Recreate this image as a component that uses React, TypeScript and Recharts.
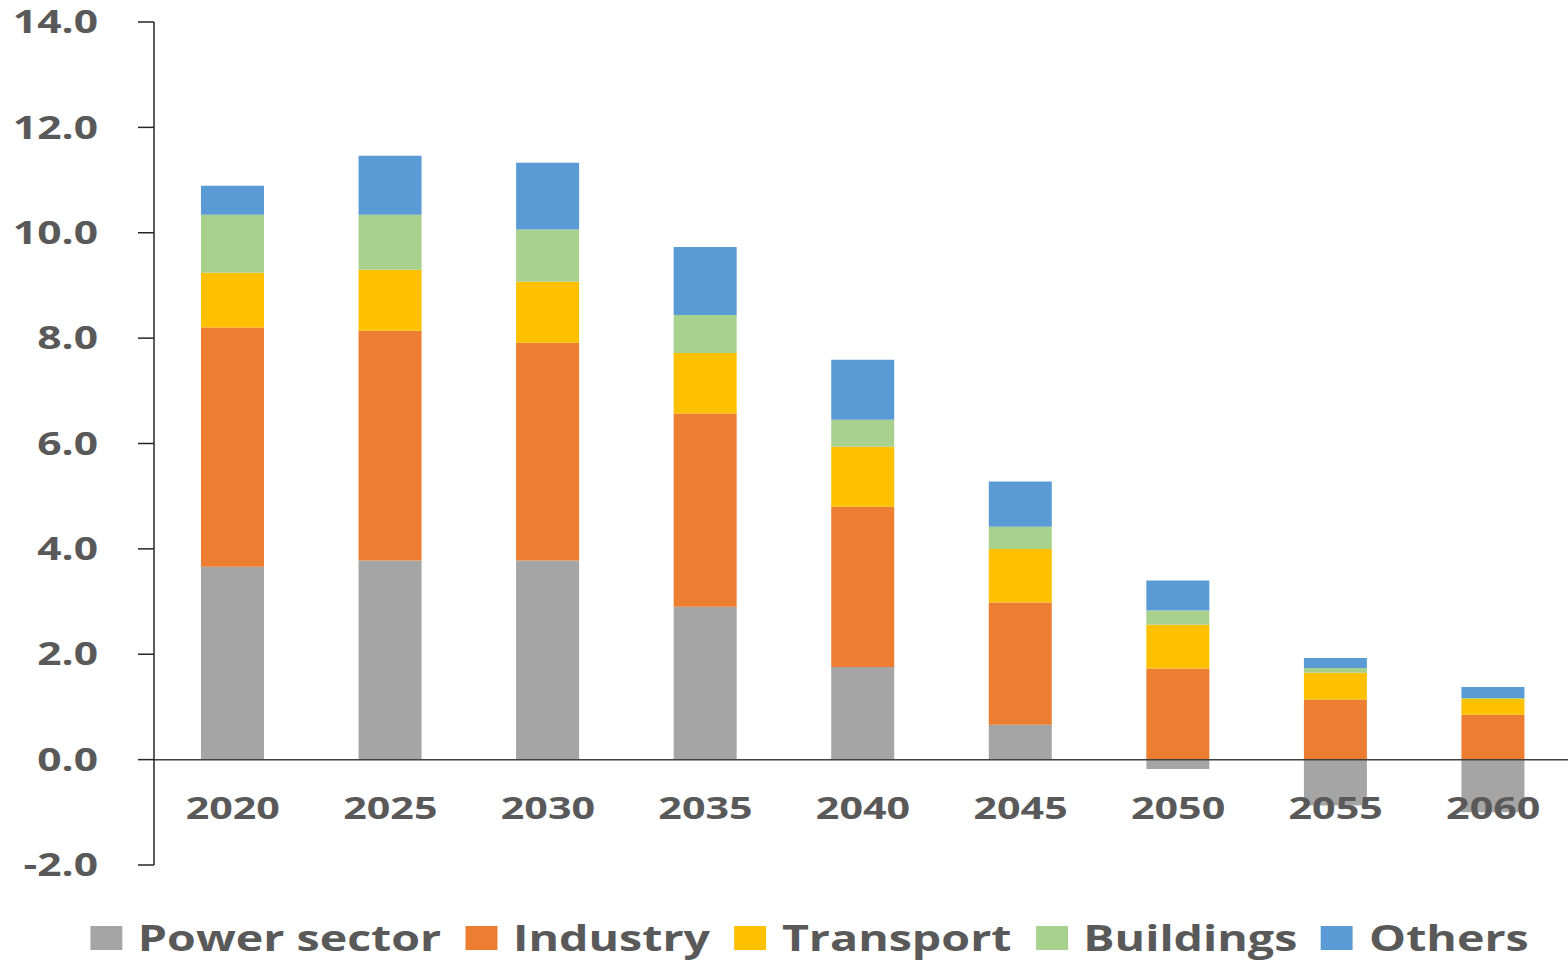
import React from 'react';
import {
  BarChart,
  Bar,
  XAxis,
  YAxis,
  ReferenceLine,
  Legend,
} from 'recharts';

const years = ['2020', '2025', '2030', '2035', '2040', '2045', '2050', '2055', '2060'];
const power = [3.66, 3.78, 3.78, 2.9, 1.76, 0.66, -0.18, -0.87, -1.0];
const industry = [4.54, 4.36, 4.13, 3.67, 3.04, 2.32, 1.73, 1.14, 0.85];
const transport = [1.04, 1.16, 1.16, 1.15, 1.14, 1.02, 0.83, 0.51, 0.3];
const buildings = [1.1, 1.04, 0.99, 0.72, 0.51, 0.42, 0.27, 0.09, 0.02];
const others = [0.55, 1.12, 1.27, 1.29, 1.14, 0.86, 0.57, 0.19, 0.21];
const yTicks = [-2, 0, 2, 4, 6, 8, 10, 12, 14];

const series = [
  { key: 'power', name: 'Power sector', color: '#A5A5A5' },
  { key: 'industry', name: 'Industry', color: '#ED7D31' },
  { key: 'transport', name: 'Transport', color: '#FFC000' },
  { key: 'buildings', name: 'Buildings', color: '#A9D18E' },
  { key: 'others', name: 'Others', color: '#5B9BD5' },
];

const data = years.map((year, i) => ({
  year,
  power: power[i],
  industry: industry[i],
  transport: transport[i],
  buildings: buildings[i],
  others: others[i],
}));

const FONT = '"Open Sans", "Noto Sans", sans-serif';
const TEXT = '#595959';
const STRETCH = 1.33;

function YTick({ x, y, payload }: any) {
  return (
    <text
      transform={`translate(${x},${y}) scale(${STRETCH},1)`}
      textAnchor="end"
      dy="0.35em"
      fill={TEXT}
      fontFamily={FONT}
      fontWeight={700}
      fontSize={32}
    >
      {Number(payload.value).toFixed(1)}
    </text>
  );
}

function XTick({ x, y, payload }: any) {
  // labels sit just under the zero line, not at the plot bottom
  return (
    <text
      transform={`translate(${x},${y - 56.5}) scale(${STRETCH},1)`}
      textAnchor="middle"
      dy="0.35em"
      fill={TEXT}
      fontFamily={FONT}
      fontWeight={700}
      fontSize={31}
    >
      {payload.value}
    </text>
  );
}

function LegendContent() {
  return (
    <div style={{ height: 65, position: 'relative' }}>
      <div
        style={{
          position: 'absolute',
          left: 0,
          top: 23,
          paddingLeft: 90 / STRETCH,
          display: 'flex',
          alignItems: 'center',
          transform: `scaleX(${STRETCH})`,
          transformOrigin: '0 0',
          whiteSpace: 'nowrap',
          fontFamily: FONT,
          fontWeight: 700,
          fontSize: 35,
          lineHeight: '40px',
          color: TEXT,
        }}
      >
        {series.map((s) => (
          <div key={s.key} style={{ display: 'flex', alignItems: 'center', marginRight: 18 }}>
            <span style={{ width: 24, height: 24, background: s.color, marginRight: 12, display: 'inline-block' }} />
            <span>{s.name}</span>
          </div>
        ))}
      </div>
    </div>
  );
}

export default function App() {
  return (
    <div style={{ position: 'absolute', left: 0, top: 0, width: 1568, height: 960, background: '#fff' }}>
      <BarChart
        width={1568}
        height={960}
        data={data}
        stackOffset="sign"
        margin={{ top: 22, right: -4, left: 0, bottom: 0 }}
      >
        <YAxis
          domain={[-2, 14]}
          ticks={yTicks}
          interval={0}
          width={154}
          axisLine={{ stroke: '#262626', strokeWidth: 1.5 }}
          tickLine={{ stroke: '#262626', strokeWidth: 1.5 }}
          tickSize={16}
          tickMargin={40}
          tick={<YTick />}
        />
        {series.map((s) => (
          <Bar
            key={s.key}
            dataKey={s.key}
            name={s.name}
            stackId="a"
            fill={s.color}
            barSize={63}
            isAnimationActive={false}
          />
        ))}
        <ReferenceLine y={0} stroke="#404040" strokeWidth={1.5} />
        <XAxis
          dataKey="year"
          height={30}
          axisLine={false}
          tickLine={false}
          tickSize={0}
          tickMargin={0}
          interval={0}
          tick={<XTick />}
        />
        <Legend verticalAlign="bottom" content={<LegendContent />} />
      </BarChart>
    </div>
  );
}
